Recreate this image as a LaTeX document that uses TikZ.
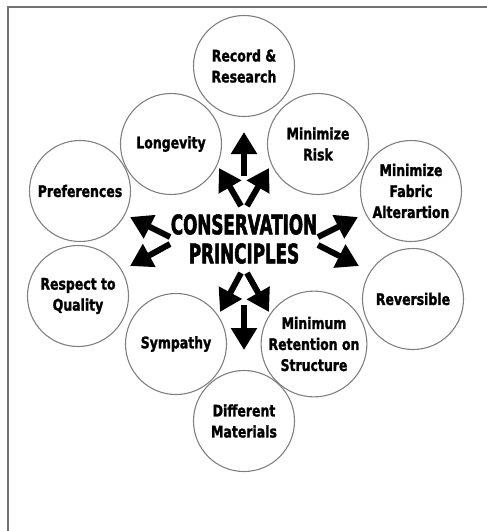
\documentclass[tikz,border=0pt]{standalone}
\usepackage{fontspec}
\usetikzlibrary{arrows.meta}
\newfontfamily\labfont[FakeStretch=0.78,FakeBold=1.5]{DejaVu Sans}
\newfontfamily\titfont[FakeStretch=0.62,FakeBold=2]{DejaVu Sans}
\begin{document}
\begin{tikzpicture}[x=1pt,y=-1pt,
  circ/.style={circle,draw=black!50,line width=1.1pt,minimum size=101pt,inner sep=0pt,align=center,
    font=\labfont\bfseries\fontsize{16}{21}\selectfont},
  bigarrow/.style={line width=6pt,-{Triangle[width=25pt,length=22pt]}},
  frameline/.style={draw=black!55,line width=1.6pt}]
\useasboundingbox (0,0) rectangle (487,531);
% frame
\coordinate (fa) at (8,531);
\coordinate (fb) at (8,7);
\coordinate (fc) at (487,7);
\draw[frameline] (fa) -- (fb) -- (fc);
% circles
\node[circ] (rec) at (244,66) {Record \&\\Research};
\node[circ] (lon) at (171,144) {Longevity};
\node[circ] (mr) at (318,144) {Minimize\\Risk};
\node[circ] (pref) at (80,191) {Preferences};
\node[circ] (mfa) at (411,191) {Minimize\\Fabric\\Alterartion};
\node[circ] (rq) at (78,296) {Respect to\\Quality};
\node[circ] (rev) at (413,299) {Reversible};
\node[circ] (sym) at (176,344) {Sympathy};
\node[circ] (mrs) at (314,344) {Minimum\\Retention on\\Structure};
\node[circ] (dm) at (244,421) {Different\\Materials};
% title
\node[align=center,inner sep=0pt,font=\titfont\bfseries\fontsize{27}{29}\selectfont] (cp) at (244,239) {CONSERVATION\\PRINCIPLES};
% arrow ends
\coordinate (s1) at (244,176); \coordinate (e1) at (244,132);
\coordinate (s2) at (241,206); \coordinate (e2) at (219,168);
\coordinate (s3) at (247,206); \coordinate (e3) at (269,168);
\coordinate (s4) at (170,237); \coordinate (e4) at (130,217);
\coordinate (s5) at (170,244); \coordinate (e5) at (130,266);
\coordinate (s6) at (318,237); \coordinate (e6) at (358,217);
\coordinate (s7) at (318,245); \coordinate (e7) at (359,266);
\coordinate (s8) at (241,273); \coordinate (e8) at (220,312);
\coordinate (s9) at (247,273); \coordinate (e9) at (269,312);
\coordinate (s10) at (244,305); \coordinate (e10) at (244,350);
\foreach \i in {1,...,10} \draw[bigarrow] (s\i) -- (e\i);
\end{tikzpicture}
\end{document}
